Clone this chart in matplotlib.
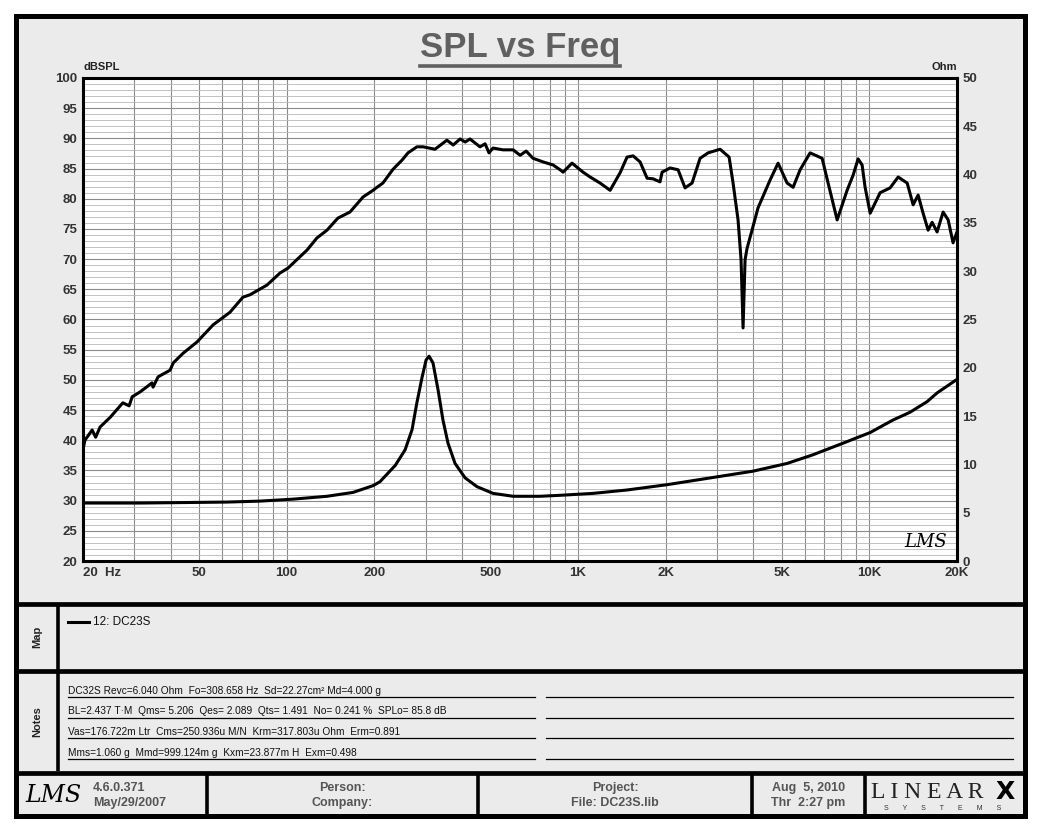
import matplotlib.pyplot as plt
from matplotlib.patches import Rectangle
from matplotlib.ticker import LogLocator, MultipleLocator, NullFormatter

# SPL curve (Hz, dB SPL)
spl_freq = [20, 20.3, 21.5, 22.1, 22.9, 24.8, 27.4, 28.8, 29.5, 31.4, 34.5, 34.8,
            36.2, 39.8, 40.8, 44.1, 49.3, 55.9, 63.9, 70.8, 74.9, 85.6, 94.9, 101,
            117.5, 127, 137.6, 150, 165, 183, 198, 203, 214, 232, 249, 261, 280,
            294, 323, 355, 373, 394, 410, 426, 461, 480, 495, 511, 553, 599, 633,
            664, 701, 759, 821, 868, 889, 954, 1041, 1101, 1191, 1289, 1395, 1474,
            1546, 1634, 1727, 1811, 1913, 1944, 2071, 2206, 2331, 2464, 2625, 2797,
            3075, 3302, 3407, 3544, 3629, 3687, 3746, 3806, 3958, 4151, 4565, 4863,
            5223, 5476, 5789, 6264, 6887, 7221, 7756, 8392, 8799, 9154, 9447, 9674,
            10070, 10890, 11790, 12560, 13490, 14140, 14710, 15300, 15920, 16430,
            17090, 17920, 18650, 19390, 20000]
spl_db = [38.4, 40.0, 41.7, 40.5, 42.2, 43.8, 46.2, 45.7, 47.2, 48.0, 49.5, 48.8,
          50.5, 51.6, 52.8, 54.4, 56.3, 59.1, 61.2, 63.7, 64.1, 65.7, 67.7, 68.5,
          71.5, 73.5, 74.8, 76.8, 77.8, 80.3, 81.4, 81.8, 82.6, 84.9, 86.4, 87.6, 88.6,
          88.6, 88.2, 89.7, 88.9, 89.9, 89.4, 89.9, 88.6, 89.1, 87.6, 88.4, 88.1, 88.1, 87.2,
          87.9, 86.7, 86.1, 85.6, 84.8, 84.4, 85.9, 84.4, 83.6, 82.6, 81.4, 84.3, 86.9,
          87.1, 86.1, 83.4, 83.3, 82.8, 84.4, 85.1, 84.8, 81.8, 82.6, 86.7, 87.6,
          88.2, 86.9, 82.6, 76.5, 69.9, 58.6, 69.9, 71.8, 74.8, 78.5, 83.1, 85.9,
          82.6, 81.9, 84.8, 87.6, 86.7, 82.6, 76.5, 81.4, 83.9, 86.6, 85.6, 81.9,
          77.6, 81.0, 81.8, 83.6, 82.6, 79.0, 80.6, 77.6, 74.8, 76.1,
          74.5, 77.8, 76.5, 72.7, 74.5]

# impedance curve (Hz, Ohm)
imp_freq = [20, 31.4, 62.4, 81, 105, 137.6, 169, 198, 209, 236, 255, 269.5, 280,
            291.6, 301, 308.2, 318, 331, 344, 358, 378.5, 410, 450, 511, 599, 741,
            868, 1127, 1474, 2022, 2842, 3990, 5223, 6412, 8131, 10070, 12070,
            13800, 15800, 17090, 20000]
imp_ohm = [6.0, 6.0, 6.1, 6.2, 6.4, 6.7, 7.1, 7.8, 8.2, 9.9, 11.5, 13.6, 16.4,
           19.0, 20.8, 21.2, 20.5, 17.7, 14.6, 12.2, 10.1, 8.6, 7.7, 7.0, 6.7, 6.7,
           6.8, 7.0, 7.35, 7.9, 8.6, 9.3, 10.1, 11.0, 12.2, 13.3, 14.6,
           15.4, 16.5, 17.4, 18.8]

x_ticks = [20, 50, 100, 200, 500, 1000, 2000, 5000, 10000, 20000]
x_labels = ['20  Hz', '50', '100', '200', '500', '1K', '2K', '5K', '10K', '20K']
spl_ticks = list(range(20, 101, 5))
ohm_ticks = list(range(0, 51, 5))

legend_text = '12: DC23S'
notes = ['DC32S Revc=6.040 Ohm  Fo=308.658 Hz  Sd=22.27cm\u00b2 Md=4.000 g',
         'BL=2.437 T\u00b7M  Qms= 5.206  Qes= 2.089  Qts= 1.491  No= 0.241 %  SPLo= 85.8 dB',
         'Vas=176.722m Ltr  Cms=250.936u M/N  Krm=317.803u Ohm  Erm=0.891',
         'Mms=1.060 g  Mmd=999.124m g  Kxm=23.877m H  Exm=0.498']
footer_cells = [('Person:', 'Company:'), ('Project:', 'File: DC23S.lib'),
                ('Aug  5, 2010', 'Thr  2:27 pm')]

W, H = 1040, 832
plt.rcParams['font.family'] = ['Liberation Sans', 'DejaVu Sans']
fig = plt.figure(figsize=(W / 100, H / 100), dpi=100)

# page layer in pixel coordinates
bg = fig.add_axes([0, 0, 1, 1])
bg.set_zorder(-1)
bg.set_xlim(0, W)
bg.set_ylim(H, 0)
bg.axis('off')
bg.add_patch(Rectangle((16, 16), 1009, 800, facecolor='#ebebeb',
                       edgecolor='black', lw=3.6))
for yy in [603.5, 671, 773]:
    bg.plot([16, 1025], [yy, yy], color='black', lw=3.4, solid_capstyle='butt')
bg.plot([58, 58], [606, 771], color='black', lw=2.6, solid_capstyle='butt')
for xx in [207, 478, 752, 865]:
    bg.plot([xx, xx], [775, 815], color='black', lw=2.6, solid_capstyle='butt')

# title
bg.text(520, 47, 'SPL vs Freq', ha='center', va='center', fontsize=25,
        fontweight='bold', color='#606060')
bg.plot([420, 620], [65.5, 65.5], color='#606060', lw=2.6)
bg.text(83, 67, 'dBSPL', ha='left', va='center', fontsize=8, fontweight='bold', color='#222222')
bg.text(957, 67, 'Ohm', ha='right', va='center', fontsize=8, fontweight='bold', color='#222222')

# map section
bg.text(37, 637, 'Map', rotation=90, ha='center', va='center', fontsize=8,
        fontweight='bold', color='#222222')
bg.plot([68, 89], [622, 622], color='black', lw=2.2)
bg.text(93, 622, legend_text, ha='left', va='center', fontsize=8.5, color='#111111')

# notes section
bg.text(37, 722, 'Notes', rotation=90, ha='center', va='center', fontsize=8,
        fontweight='bold', color='#222222')
for i, line in enumerate(notes):
    yy = 697 + i * 20.7
    bg.text(68, yy - 1.5, line, ha='left', va='bottom', fontsize=7.3, color='#111111')
    bg.plot([68, 535], [yy, yy], color='black', lw=0.9)
    bg.plot([546, 1013], [yy, yy], color='black', lw=0.9)

# footer
bg.text(53, 796, 'LMS', ha='center', va='center', fontsize=17, style='italic',
        family='DejaVu Serif', color='black')
bg.text(93, 788, '4.6.0.371', ha='left', va='center', fontsize=9, fontweight='bold', color='#555555')
bg.text(93, 803, 'May/29/2007', ha='left', va='center', fontsize=9, fontweight='bold', color='#555555')
for (top, bot), (x0, x1) in zip(footer_cells, [(207, 478), (478, 752), (752, 865)]):
    cx = (x0 + x1) / 2
    bg.text(cx, 788, top, ha='center', va='center', fontsize=9, fontweight='bold', color='#555555')
    bg.text(cx, 803, bot, ha='center', va='center', fontsize=9, fontweight='bold', color='#555555')
bg.text(871, 792, 'L I N E A R', ha='left', va='center', fontsize=17,
        family='Liberation Serif', color='#222222')
bg.text(1015, 792, 'X', ha='right', va='center', fontsize=18, fontweight='bold',
        family='DejaVu Sans', color='black')
bg.text(943, 808, 'S       Y       S       T       E       M       S', ha='center',
        va='center', fontsize=5, color='#333333')

# main chart
L, R, T, B = 83, 957, 78, 561
ax = fig.add_axes([L / W, 1 - B / H, (R - L) / W, (B - T) / H])
ax.set_facecolor('white')
ax.set_xscale('log')
ax.set_xlim(20, 20000)
ax.set_ylim(20, 100)
ax.xaxis.set_minor_locator(LogLocator(base=10, subs=range(1, 10), numticks=20))
ax.xaxis.set_minor_formatter(NullFormatter())
ax.set_xticks(x_ticks)
ax.set_xticklabels(x_labels)
ax.set_yticks(spl_ticks)
ax.yaxis.set_minor_locator(MultipleLocator(1))
ax.grid(which='minor', axis='y', color='#b8b8b8', lw=0.6)
ax.grid(which='major', axis='y', color='#8a8a8a', lw=0.8)
ax.grid(which='both', axis='x', color='#8a8a8a', lw=0.8)
ax.set_axisbelow(True)
for sp in ax.spines.values():
    sp.set_linewidth(2.2)
ax.tick_params(which='both', length=0, labelsize=9.5, labelcolor='#333333', pad=4)
for lab in ax.get_xticklabels() + ax.get_yticklabels():
    lab.set_fontweight('bold')
ax.get_xticklabels()[0].set_ha('left')
ax.plot(spl_freq, spl_db, color='black', lw=2.2, zorder=3)

ax2 = ax.twinx()
ax2.set_ylim(0, 50)
ax2.set_yticks(ohm_ticks)
ax2.tick_params(length=0, labelsize=9.5, labelcolor='#333333', pad=4)
for lab in ax2.get_yticklabels():
    lab.set_fontweight('bold')
for sp in ax2.spines.values():
    sp.set_visible(False)
ax2.plot(imp_freq, imp_ohm, color='black', lw=2.2, zorder=3)

ax.text(0.964, 0.04, 'LMS', transform=ax.transAxes, ha='center', va='center',
        fontsize=13, style='italic', family='DejaVu Serif', color='black')

fig.savefig('out.png', dpi=100)
